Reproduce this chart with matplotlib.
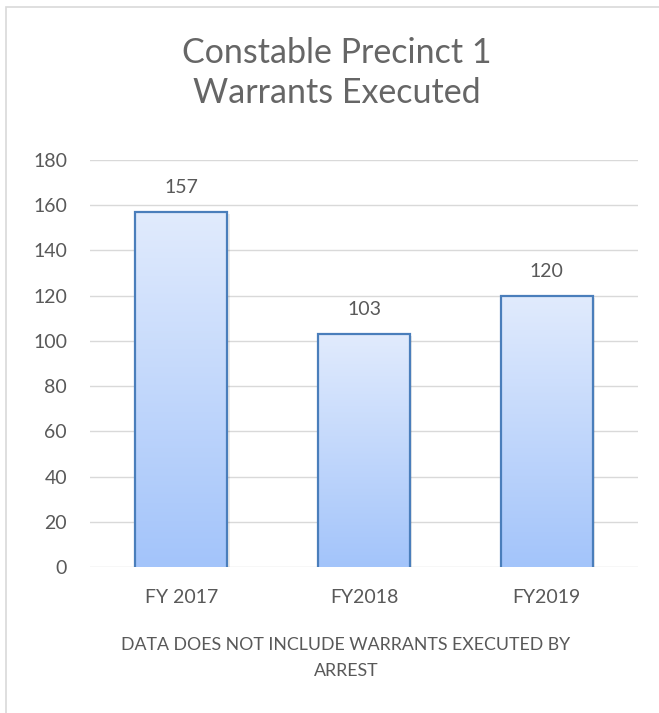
import numpy as np
import matplotlib
matplotlib.use("Agg")
import matplotlib.pyplot as plt
from matplotlib.colors import LinearSegmentedColormap
from matplotlib.patches import Rectangle

categories = ["FY 2017", "FY2018", "FY2019"]
warrants = [157, 103, 120]
y_ticks = [0, 20, 40, 60, 80, 100, 120, 140, 160, 180]

title_lines = ["Constable Precinct 1", "Warrants Executed"]
note_lines = ["DATA DOES NOT INCLUDE WARRANTS EXECUTED BY", "ARREST"]

text_color = "#595959"
grid_color = "#d9d9d9"
edge_color = "#4a7ebb"
grad = LinearSegmentedColormap.from_list("bar_grad", ["#a3c4fa", "#e1ebfd"])

plt.rcParams["font.family"] = ["Lato", "DejaVu Sans"]

W, H, DPI = 659, 713, 100
fig = plt.figure(figsize=(W / DPI, H / DPI), dpi=DPI)


def fx(px):
    return px / W


def fy(py):
    return 1 - py / H


# chart frame (runs past the right and bottom edges of the canvas)
fig.patches.append(Rectangle((fx(6), -0.1), 1.0, fy(7) + 0.1,
                             transform=fig.transFigure, fill=False,
                             edgecolor="#d9d9d9", linewidth=1.2))

ax = fig.add_axes([fx(90), fy(567), fx(638 - 90), (567 - 160) / H])
ax.set_xlim(-0.5, len(categories) - 0.5)
ax.set_ylim(0, 180)

for t in y_ticks:
    ax.axhline(t, color=grid_color, linewidth=1.0, zorder=0)

bar_w = 0.505
gradient = np.linspace(0, 1, 256).reshape(-1, 1)
for i, v in enumerate(warrants):
    x0 = i - bar_w / 2
    # soft shadow
    ax.add_patch(Rectangle((x0 + 0.012, -1.0), bar_w, v, facecolor="#000000",
                           alpha=0.08, edgecolor="none", zorder=1))
    im = ax.imshow(gradient, cmap=grad, aspect="auto", origin="lower",
                   extent=(x0, x0 + bar_w, 0, v), zorder=2)
    clip = Rectangle((x0, 0), bar_w, v, transform=ax.transData, facecolor="none",
                     edgecolor="none")
    ax.add_patch(clip)
    im.set_clip_path(clip)
    ax.plot([x0, x0, x0 + bar_w, x0 + bar_w], [0, v, v, 0], color=edge_color,
            linewidth=1.6, zorder=3, solid_joinstyle="miter")
    ax.text(i, v + 8.4, str(v), ha="center", va="baseline", fontsize=14,
            color=text_color)

ax.set_xlim(-0.5, len(categories) - 0.5)
ax.set_ylim(0, 180)
ax.set_xticks(range(len(categories)))
ax.set_xticklabels(categories)
ax.set_yticks(y_ticks)
ax.tick_params(axis="both", length=0, labelsize=14, labelcolor=text_color)
ax.tick_params(axis="x", pad=16)
ax.tick_params(axis="y", pad=16.5)
for s in ax.spines.values():
    s.set_visible(False)

for line, base in zip(title_lines, [63, 103]):
    fig.text(fx(337), fy(base), line, ha="center", va="baseline",
             fontsize=24.5, color="#666666")
for line, base in zip(note_lines, [649.5, 676]):
    fig.text(fx(346), fy(base), line, ha="center", va="baseline",
             fontsize=12.8, color=text_color)

fig.savefig("out.png", dpi=DPI, facecolor="white")
